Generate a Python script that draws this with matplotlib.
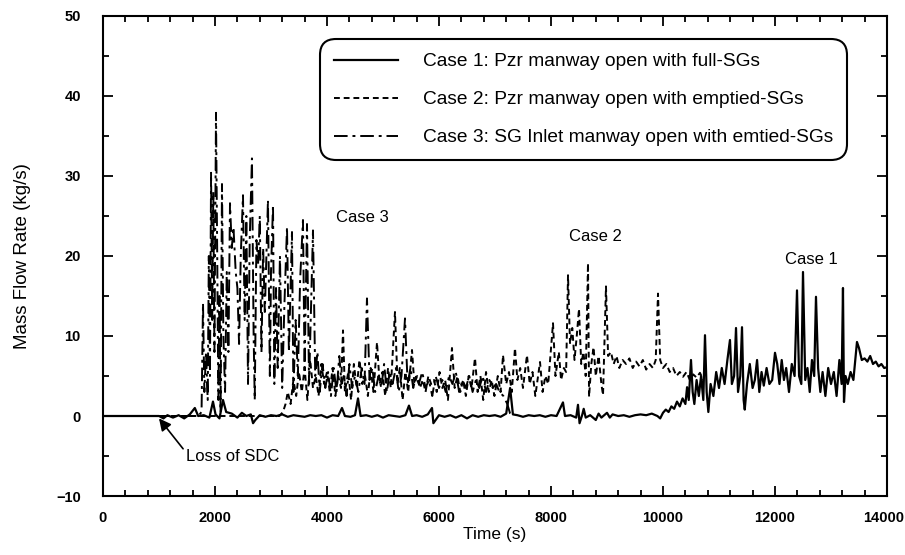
import matplotlib
matplotlib.use("Agg")
import matplotlib.pyplot as plt
from matplotlib.ticker import MultipleLocator

plt.rcParams['font.family'] = ['Liberation Sans', 'DejaVu Sans']

# Case 1: Pzr manway open with full-SGs (solid)
case1_t = [0, 1000, 1080, 1150, 1250, 1350, 1450, 1550, 1640, 1700, 1800, 1900, 1964, 2010,
           2080, 2143, 2200, 2300, 2400, 2480, 2560, 2640, 2680, 2720, 2800, 2900, 3000, 3100,
           3200, 3300, 3400, 3500, 3600, 3700, 3800, 3900, 4000, 4100, 4200, 4268, 4320, 4420,
           4500, 4554, 4600, 4700, 4800, 4900, 5000, 5100, 5200, 5300, 5400, 5464, 5520, 5600,
           5700, 5800, 5875, 5900, 5950, 6000, 6100, 6200, 6300, 6400, 6500, 6600, 6700, 6800,
           6900, 7000, 7100, 7200, 7270, 7320, 7400, 7500, 7600, 7700, 7800, 7900, 8000, 8100,
           8214, 8250, 8350, 8450, 8482, 8510, 8560, 8584, 8620, 8700, 8800, 8850, 8900, 8950,
           9000, 9050, 9100, 9200, 9300, 9400, 9500, 9600, 9700, 9800, 9900, 9950, 10000, 10050,
           10100, 10150, 10200, 10250, 10300, 10350, 10400, 10430, 10460, 10500, 10530, 10560,
           10600, 10640, 10680, 10720, 10750, 10780, 10810, 10850, 10900, 10950, 11000, 11050,
           11100, 11150, 11196, 11230, 11270, 11304, 11340, 11380, 11411, 11440, 11460, 11500,
           11550, 11600, 11640, 11680, 11720, 11760, 11800, 11850, 11900, 11950, 12000, 12040,
           12080, 12120, 12160, 12200, 12250, 12300, 12350, 12393, 12430, 12470, 12500, 12540,
           12580, 12620, 12660, 12700, 12732, 12770, 12810, 12850, 12900, 12950, 13000, 13050,
           13100, 13150, 13190, 13214, 13232, 13260, 13300, 13350, 13400, 13440, 13464, 13500,
           13550, 13600, 13650, 13700, 13750, 13800, 13850, 13900, 13950, 14000]
case1_v = [0, 0, -0.3, 0.1, -0.2, 0.1, -0.3, 0.2, 1.0, 0, 0.1, -0.2, 1.8, 0.2,
           -0.3, 2.0, 0.5, 0.3, -0.2, 0.4, 0, 0.2, -0.9, -0.5, 0.1, -0.1, 0.1, 0,
           0.2, -0.1, 0.1, 0, -0.1, 0.1, 0, 0.1, -0.2, 0.1, 0, 1.0, 0, -0.1,
           0.1, 2.2, 0, 0.1, -0.1, 0.1, -0.2, 0.1, 0, -0.1, 0.1, 1.3, 0, 0.1,
           -0.1, 0.2, 1.0, -0.9, -0.4, 0.1, -0.1, 0.1, -0.2, 0.1, -0.3, 0.1, -0.1, 0.1,
           0, 0.1, -0.1, 0.3, 3.5, 0.2, 0.1, -0.1, 0.1, 0, 0.1, -0.1, 0.1, 0,
           1.7, 0, 0.1, -0.2, 1.4, -0.9, 0.2, 0.9, -0.2, 0.1, -0.5, 0.3, -0.2, 0.1,
           0.4, -0.2, 0.2, 0, 0.1, -0.1, 0.1, 0.2, 0.1, 0.3, 0, -0.3, 0.4, 0.8,
           0.5, 1.2, 0.9, 1.8, 1.2, 2.2, 1.5, 3.6, 2.0, 7.0, 3.0, 1.5,
           4.5, 2.5, 5.0, 2.0, 10.1, 3.0, 0.5, 4.0, 2.5, 5.5, 3.5, 6.0,
           4.0, 7.0, 9.5, 4.0, 5.0, 11.0, 3.0, 5.0, 11.1, 2.0, 0.8, 4.0,
           6.5, 3.5, 4.5, 7.0, 3.0, 5.5, 3.8, 6.0, 4.0, 4.5, 7.9, 6.5,
           4.0, 7.0, 4.5, 6.0, 3.0, 6.5, 5.0, 15.7, 5.0, 4.0, 18.0, 4.5,
           6.0, 3.0, 7.0, 5.0, 14.9, 6.0, 3.0, 5.5, 2.5, 6.0, 4.0, 5.5,
           2.5, 7.0, 4.0, 16.0, 1.75, 5.0, 4.0, 5.5, 4.5, 7.5, 9.25, 8.5,
           7.0, 7.2, 6.8, 7.5, 6.5, 6.8, 6.2, 6.5, 6.0, 6.1]

# Case 2: Pzr manway open with emptied-SGs (dashed)
case2_t = [0, 3150, 3214, 3260, 3300, 3350, 3400, 3450, 3500, 3550, 3600, 3650, 3700, 3750,
           3800, 3850, 3900, 3950, 4000, 4050, 4100, 4150, 4200, 4250, 4286, 4320, 4380, 4430,
           4480, 4530, 4580, 4630, 4680, 4730, 4780, 4830, 4893, 4940, 4990, 5040, 5090, 5140,
           5214, 5260, 5300, 5350, 5400, 5450, 5518, 5560, 5610, 5660, 5710, 5760, 5810, 5860,
           5910, 5960, 6010, 6060, 6110, 6160, 6232, 6280, 6330, 6380, 6430, 6480, 6530, 6580,
           6643, 6690, 6740, 6790, 6840, 6890, 6940, 6990, 7050, 7100, 7143, 7200, 7250, 7300,
           7357, 7400, 7450, 7500, 7571, 7620, 7670, 7720, 7804, 7850, 7900, 7950, 8036, 8080,
           8140, 8180, 8230, 8270, 8304, 8340, 8380, 8420, 8460, 8500, 8540, 8580, 8620, 8661,
           8680, 8720, 8760, 8800, 8850, 8900, 8929, 8982, 9020, 9070, 9120, 9170, 9220, 9280,
           9340, 9400, 9460, 9520, 9580, 9640, 9700, 9760, 9820, 9870, 9911, 9950, 10000, 10060,
           10120, 10180, 10240, 10300, 10357, 10420, 10480, 10540, 10600, 10660, 10720]
case2_v = [0, 0, 0.5, 1.5, 3.0, 1.5, 4.5, 2.5, 5.5, 3.0, 6.0, 2.0, 7.0, 3.5,
           5.0, 2.5, 6.5, 4.0, 5.5, 3.0, 6.0, 2.5, 5.0, 3.5, 10.7, 3.0, 5.5, 2.0,
           6.5, 3.5, 7.0, 4.0, 5.0, 2.5, 6.0, 3.0, 9.2, 4.0, 5.5, 2.5, 6.0, 3.5,
           13.0, 4.0, 6.0, 2.0, 5.5, 3.0, 8.25, 4.0, 5.0, 3.5, 4.5, 3.0, 5.0, 4.0,
           4.5, 3.0, 5.5, 3.5, 4.5, 2.0, 8.5, 3.5, 5.0, 3.0, 4.5, 2.5, 5.0, 3.5,
           7.25, 3.0, 5.0, 2.0, 5.5, 3.0, 4.5, 2.5, 5.0, 3.0, 7.6, 4.0, 5.5, 3.0,
           8.5, 4.5, 6.0, 3.5, 7.6, 4.0, 5.5, 2.5, 6.75, 3.0, 5.0, 4.0, 11.6, 5.0,
           8.0, 4.5, 6.0, 5.5, 17.6, 9.0, 11.0, 7.0, 10.0, 13.4, 6.5, 8.0, 5.0, 19.1,
           2.4, 6.5, 8.6, 5.0, 7.5, 4.0, 2.6, 16.2, 7.5, 8.0, 6.5, 7.5, 6.0, 7.0,
           6.5, 7.2, 6.0, 6.8, 6.2, 7.0, 5.8, 6.5, 6.0, 7.0, 15.3, 7.0, 6.0, 6.5,
           5.5, 6.0, 5.0, 5.5, 4.9, 5.5, 4.5, 5.2, 4.8, 5.4, 4.5]

# Case 3: SG Inlet manway open with emptied-SGs (dash-dot)
case3_t = [0, 1700, 1760, 1786, 1810, 1840, 1870, 1890, 1910, 1930, 1950, 1970, 1990, 2018,
           2040, 2060, 2080, 2100, 2125, 2150, 2180, 2210, 2240, 2268, 2300, 2330, 2370, 2400,
           2430, 2460, 2500, 2530, 2560, 2590, 2620, 2660, 2690, 2710, 2740, 2770, 2800, 2830,
           2860, 2890, 2946, 2980, 3000, 3036, 3060, 3090, 3120, 3160, 3200, 3240, 3286, 3320,
           3375, 3400, 3440, 3480, 3520, 3571, 3600, 3643, 3680, 3720, 3750, 3790, 3830, 3870,
           3920, 3970, 4020, 4070, 4120, 4170, 4220, 4260, 4300, 4350, 4400, 4450, 4500, 4560,
           4620, 4670, 4714, 4760, 4810, 4860, 4920, 4970, 5020, 5070, 5120, 5170, 5230, 5280,
           5330, 5393, 5440, 5490, 5540, 5590, 5640, 5700, 5760, 5820, 5880, 5940, 6000, 6060,
           6120, 6180, 6240, 6300, 6360, 6420, 6480, 6540, 6600, 6660, 6720, 6780, 6840, 6900,
           6960, 7020, 7080, 7150, 7220, 7270, 7300]
case3_v = [0, 0, 0.5, 14.1, 3.0, 8.0, 2.0, 20.0, 5.0, 30.4, 12.0, 28.0, 8.0, 37.9,
           20.0, 2.0, 15.0, 0.5, 29.0, 10.0, 3.0, 18.0, 8.0, 26.6, 21.0, 23.6, 18.0, 16.0,
           9.0, 20.0, 27.6, 12.0, 25.0, 4.0, 22.0, 32.2, 10.0, 2.0, 22.0, 19.0, 25.0, 8.0,
           21.0, 13.0, 27.0, 5.0, 18.0, 26.4, 4.0, 16.0, 6.0, 20.0, 3.5, 14.0, 23.6, 8.0,
           23.0, 3.0, 12.0, 5.0, 17.0, 24.5, 6.0, 24.0, 4.0, 15.0, 23.2, 5.0, 8.0, 3.0,
           6.5, 3.5, 5.5, 2.5, 6.0, 3.0, 7.5, 4.0, 5.0, 2.5, 6.5, 3.5, 5.0, 3.0,
           6.0, 4.0, 14.7, 4.5, 6.0, 3.0, 5.0, 3.5, 6.5, 3.0, 5.5, 4.0, 6.0, 3.0,
           5.0, 12.2, 4.0, 6.0, 3.5, 5.0, 4.0, 5.5, 3.5, 4.5, 2.5, 5.0, 3.5, 4.5,
           3.0, 5.0, 4.0, 5.5, 3.0, 4.5, 3.5, 5.0, 3.0, 4.5, 3.5, 5.0, 3.0, 4.5,
           3.5, 4.0, 3.0, 2.5, 1.5, 0.3, 0]

labels = ['Case 1: Pzr manway open with full-SGs',
          'Case 2: Pzr manway open with emptied-SGs',
          'Case 3: SG Inlet manway open with emtied-SGs']
xticks = [0, 2000, 4000, 6000, 8000, 10000, 12000, 14000]
xtick_labels = ['0', '2000', '4000', '6000', '8000', '10000', '12000', '14000']

fig = plt.figure(figsize=(9.05, 5.55), dpi=100)
ax = fig.add_axes([0.1138, 0.1063, 0.8663, 0.8649])

ax.plot(case1_t, case1_v, color='black', lw=1.6, ls='-', label=labels[0])
ax.plot(case2_t, case2_v, color='black', lw=1.4, ls=(0, (3, 2)), label=labels[1])
ax.plot(case3_t, case3_v, color='black', lw=1.4, ls=(0, (7, 2.5, 1.5, 2.5)), label=labels[2])

ax.set_xlim(0, 14000)
ax.set_ylim(-10, 50)
# the last label is drawn separately so that it stays inside the figure
ax.set_xticks(xticks, xtick_labels[:-1] + [''])
ax.xaxis.set_minor_locator(MultipleLocator(400))
ax.yaxis.set_major_locator(MultipleLocator(10))
ax.yaxis.set_minor_locator(MultipleLocator(5))
ax.tick_params(which='both', direction='in', top=True, right=True, width=1.3)
ax.tick_params(which='major', length=7)
ax.tick_params(which='minor', length=4)
ax.tick_params(axis='x', pad=11)
ax.tick_params(axis='y', pad=16)
for s in ax.spines.values():
    s.set_linewidth(1.5)
for lab in ax.get_xticklabels() + ax.get_yticklabels():
    lab.set_fontweight('bold')
    lab.set_fontsize(10.5)
ax.annotate(xtick_labels[-1], xy=(xticks[-1], 0), xycoords=('data', 'axes fraction'),
            xytext=(12, -11), textcoords='offset points', ha='right', va='top',
            fontsize=10.5, fontweight='bold', annotation_clip=False)

ax.set_xlabel('Time (s)', fontsize=12.5, labelpad=1)
ax.set_ylabel('Mass Flow Rate (kg/s)', fontsize=13.5, labelpad=18)

ax.text(4160, 24.8, 'Case 3', fontsize=12, va='center')
ax.text(8800, 22.4, 'Case 2', fontsize=12, va='center', ha='center')
ax.text(12650, 19.6, 'Case 1', fontsize=12, va='center', ha='center')
ax.annotate('Loss of SDC', xy=(1000, -0.3), xytext=(1480, -5.1), fontsize=12, va='center',
            arrowprops=dict(arrowstyle='-|>', color='black', lw=1.2, mutation_scale=18,
                            shrinkA=0, shrinkB=0, relpos=(0, 0.8)))

leg = ax.legend(loc='upper left', bbox_to_anchor=(0.277, 0.952), fontsize=13.8,
                frameon=True, fancybox=True, edgecolor='black', framealpha=1,
                handlelength=3.35, handletextpad=1.3, labelspacing=1.08,
                borderpad=0.72, borderaxespad=0)
leg.get_frame().set_linewidth(1.5)
leg.get_frame().set_boxstyle('round', pad=0, rounding_size=0.85)

fig.savefig('out.png', dpi=100)
